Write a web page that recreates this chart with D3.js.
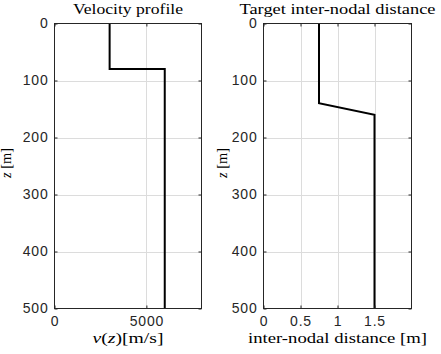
<!DOCTYPE html>
<html>
<head>
<meta charset="utf-8">
<script src="https://cdn.jsdelivr.net/npm/d3@7"></script>
<style>
  body { margin: 0; background: #fff; }
  .tick text { font-family: "Liberation Sans", Arial, sans-serif; font-size: 14px; letter-spacing: 0.8px; fill: #262626; }
  .ttl { font-family: "Liberation Serif", "DejaVu Serif", serif; font-size: 15px; fill: #000; }
</style>
</head>
<body>
<script>
// velocity profile (depth z vs velocity)
var velZ = [0, 80, 80, 500];
var velV = [3000, 3000, 6000, 6000];
// target inter-nodal distance
var distZ = [0, 140, 160, 500];
var distD = [0.75, 0.75, 1.5, 1.5];

var zTicks = [0, 100, 200, 300, 400, 500];
var velTicks = [0, 5000];
var distTicks = [0, 0.5, 1, 1.5];

var width = 441, height = 354;
var svg = d3.select("body").append("svg").attr("width", width).attr("height", height);

function panel(opts) {
    var x = d3.scaleLinear().domain(opts.xDomain).range([opts.left, opts.right]);
    var y = d3.scaleLinear().domain([0, 500]).range([23.5, 308.5]);
    var g = svg.append("g");

    // grid
    g.selectAll("line.gx").data(opts.xTicks.filter(function (t) { return t > opts.xDomain[0]; }))
        .enter().append("line")
        .attr("x1", function (d) { return Math.round(x(d)) + 0.5; })
        .attr("x2", function (d) { return Math.round(x(d)) + 0.5; })
        .attr("y1", y(0)).attr("y2", y(500))
        .attr("stroke", "#dcdcdc").attr("stroke-width", 1);
    g.selectAll("line.gy").data(zTicks.slice(1, -1))
        .enter().append("line")
        .attr("x1", opts.left).attr("x2", opts.right)
        .attr("y1", function (d) { return Math.round(y(d)) + 0.5; })
        .attr("y2", function (d) { return Math.round(y(d)) + 0.5; })
        .attr("stroke", "#dcdcdc").attr("stroke-width", 1);

    // data line
    var pts = opts.z.map(function (z, i) { return [opts.xs[i], z]; });
    g.append("path")
        .datum(pts)
        .attr("fill", "none").attr("stroke", "#000").attr("stroke-width", 2)
        .attr("d", d3.line().x(function (d) { return x(d[0]); }).y(function (d) { return y(d[1]); }));

    // axes
    g.append("g").attr("transform", "translate(" + opts.left + ",0)")
        .call(d3.axisLeft(y).tickValues(zTicks).tickSize(-3).tickPadding(6));
    g.append("g").attr("transform", "translate(" + opts.right + ",0)")
        .call(d3.axisRight(y).tickValues(zTicks).tickSize(-3).tickFormat(""));
    g.append("g").attr("transform", "translate(0," + y(500) + ")")
        .call(d3.axisBottom(x).tickValues(opts.xTicks).tickSize(-3).tickPadding(8).tickFormat(d3.format("")));
    g.append("g").attr("transform", "translate(0," + y(0) + ")")
        .call(d3.axisTop(x).tickValues(opts.xTicks).tickSize(-3).tickFormat(""));
    g.selectAll(".tick line").attr("stroke", "#262626");
    g.selectAll(".domain").remove();
    g.append("rect")
        .attr("x", opts.left).attr("y", y(0))
        .attr("width", opts.right - opts.left).attr("height", y(500) - y(0))
        .attr("fill", "none").attr("stroke", "#262626").attr("stroke-width", 1);

    // title and labels
    var cx = (opts.left + opts.right) / 2;
    svg.append("text").attr("class", "ttl").attr("x", cx).attr("y", 14)
        .attr("text-anchor", "middle")
        .attr("textLength", opts.titleW).attr("lengthAdjust", "spacingAndGlyphs")
        .text(opts.title);
    var xl = svg.append("text").attr("class", "ttl").attr("x", cx).attr("y", 343)
        .attr("text-anchor", "middle")
        .attr("textLength", opts.xLabelW).attr("lengthAdjust", "spacingAndGlyphs");
    opts.xLabel(xl);
    var yl = svg.append("text").attr("class", "ttl").style("font-size", "14px")
        .attr("transform", "translate(" + opts.yLabelX + ",163) rotate(-90)")
        .attr("text-anchor", "middle")
        .attr("textLength", 30).attr("lengthAdjust", "spacingAndGlyphs");
    yl.append("tspan").attr("font-style", "italic").text("z");
    yl.append("tspan").text(" [m]");
}

panel({
    left: 54.5, right: 201.5, xDomain: [0, 8000], xTicks: velTicks,
    z: velZ, xs: velV, title: "Velocity profile", titleW: 110, yLabelX: 11,
    xLabelW: 71,
    xLabel: function (t) {
        t.append("tspan").attr("font-style", "italic").text("v");
        t.append("tspan").text("(");
        t.append("tspan").attr("font-style", "italic").text("z");
        t.append("tspan").text(")[m/s]");
    }
});

panel({
    left: 263.5, right: 411.5, xDomain: [0, 2], xTicks: distTicks,
    z: distZ, xs: distD, title: "Target inter-nodal distance", titleW: 196, yLabelX: 226.5,
    xLabelW: 179,
    xLabel: function (t) { t.text("inter-nodal distance [m]"); }
});
</script>
</body>
</html>
